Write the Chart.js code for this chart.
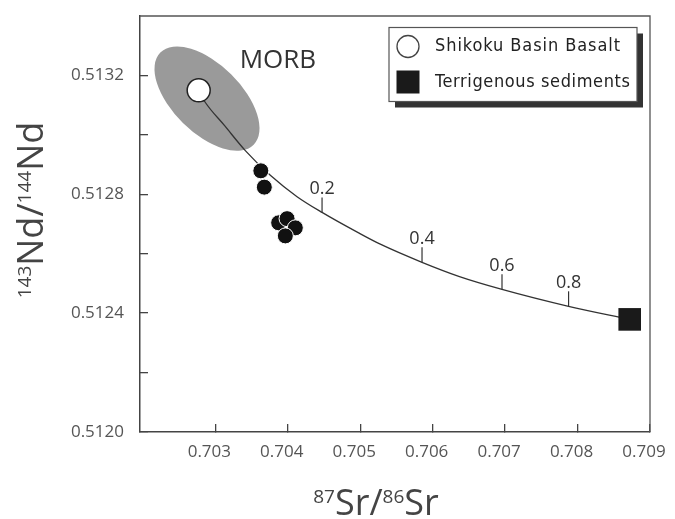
<!DOCTYPE html>
<html>
<head>
<meta charset="utf-8">
<script src="https://cdn.jsdelivr.net/npm/chart.js@4"></script>
<style>
    html, body { margin: 0; padding: 0; background: #fff; }
    #chart { display: block; }
</style>
</head>
<body>
<canvas id="chart" width="675" height="519"></canvas>
<script>
"use strict";

// values (87Sr/86Sr on x, 143Nd/144Nd on y)
const basaltX = [0.70277];
const basaltY = [0.51315];
const sedimentX = [0.70872];
const sedimentY = [0.512379];
const sampleX = [0.703628, 0.703676, 0.703874, 0.703990, 0.704104, 0.703966];
const sampleY = [0.512879, 0.512824, 0.512704, 0.512718, 0.512687, 0.512660];

// mixing curve basalt -> sediment
const mixCurveX = [0.702770, 0.702848, 0.703131, 0.703414, 0.703759, 0.704128, 0.704473,
    0.704978, 0.705277, 0.705853, 0.706370, 0.706957, 0.707876, 0.708720];
const mixCurveY = [0.513149, 0.513114, 0.513030, 0.512947, 0.512864, 0.512792, 0.512739,
    0.512670, 0.512632, 0.512571, 0.512523, 0.512480, 0.512423, 0.512379];
const mixFractions = ['0.2', '0.4', '0.6', '0.8'];
const mixX = [0.704473, 0.705853, 0.706957, 0.707876];
const mixY = [0.512739, 0.512571, 0.512480, 0.512423];

// MORB field: centre, end of long axis, end of short axis
const morbX = [0.702885, 0.703529, 0.703222];
const morbY = [0.513122, 0.512967, 0.513203];
const morbLabel = ['MORB'];
const morbLabelX = [0.703863];
const morbLabelY = [0.513249];

const xTicks = [0.703, 0.704, 0.705, 0.706, 0.707, 0.708, 0.709];
const yTicks = [0.5120, 0.5122, 0.5124, 0.5126, 0.5128, 0.5130, 0.5132];
const yTickLabels = ['0.5120', '', '0.5124', '', '0.5128', '', '0.5132'];
const legendLabels = ['Shikoku Basin Basalt', 'Terrigenous sediments'];

const FONT = '"Open Sans", "DejaVu Sans", sans-serif';
const toPoints = (xs, ys) => xs.map((x, i) => ({ x: x, y: ys[i] }));
const noPadding = () => ({ left: 0, top: 0, right: 0, bottom: 0 });

const morbField = {
    id: 'morbField',
    beforeDatasetsDraw(chart) {
        const { ctx, scales: { x, y } } = chart;
        const cx = x.getPixelForValue(morbX[0]);
        const cy = y.getPixelForValue(morbY[0]);
        const ax = x.getPixelForValue(morbX[1]) - cx;
        const ay = y.getPixelForValue(morbY[1]) - cy;
        const bx = x.getPixelForValue(morbX[2]) - cx;
        const by = y.getPixelForValue(morbY[2]) - cy;
        ctx.save();
        ctx.beginPath();
        ctx.ellipse(cx, cy, Math.hypot(ax, ay), Math.hypot(bx, by), Math.atan2(ay, ax), 0, Math.PI * 2);
        ctx.fillStyle = '#9a9a9a';
        ctx.fill();
        ctx.restore();
    }
};

function drawSupText(ctx, parts, x, y, align) {
    // parts: [[text, isSup], ...] ; big 36px, sup 19px
    const big = '36px ' + FONT;
    const small = '19px ' + FONT;
    let total = 0;
    parts.forEach(p => {
        ctx.font = p[1] ? small : big;
        total += ctx.measureText(p[0]).width;
    });
    let cur = align === 'center' ? x - total / 2 : x;
    ctx.textAlign = 'left';
    ctx.textBaseline = 'alphabetic';
    parts.forEach(p => {
        ctx.font = p[1] ? small : big;
        ctx.fillText(p[0], cur, p[1] ? y - 12 : y);
        cur += ctx.measureText(p[0]).width;
    });
}

const extras = {
    id: 'extras',
    afterDatasetsDraw(chart) {
        const { ctx, chartArea: area, scales: { x, y } } = chart;
        ctx.save();

        // top and right frame
        ctx.strokeStyle = '#555';
        ctx.lineWidth = 1.3;
        ctx.beginPath();
        ctx.moveTo(area.left, area.top);
        ctx.lineTo(area.right, area.top);
        ctx.lineTo(area.right, area.bottom);
        ctx.stroke();

        // mixing proportion ticks
        ctx.strokeStyle = '#333';
        ctx.lineWidth = 1.2;
        ctx.fillStyle = '#333';
        ctx.font = '18px ' + FONT;
        ctx.textAlign = 'center';
        ctx.textBaseline = 'alphabetic';
        mixFractions.forEach((label, i) => {
            const px = x.getPixelForValue(mixX[i]);
            const py = y.getPixelForValue(mixY[i]);
            ctx.beginPath();
            ctx.moveTo(px, py);
            ctx.lineTo(px, py - 15);
            ctx.stroke();
            ctx.fillText(label, px, py - 18);
        });

        // MORB label
        ctx.font = '26px ' + FONT;
        ctx.textBaseline = 'middle';
        ctx.fillText(morbLabel[0], x.getPixelForValue(morbLabelX[0]), y.getPixelForValue(morbLabelY[0]));

        // legend box with drop shadow
        const bw = 248, bh = 74;
        const bx = area.right - 261, by = area.top + 11.5;
        ctx.fillStyle = '#333';
        ctx.fillRect(bx + 6, by + 6, bw, bh);
        ctx.fillStyle = '#fff';
        ctx.fillRect(bx, by, bw, bh);
        ctx.strokeStyle = '#555';
        ctx.lineWidth = 1.2;
        ctx.strokeRect(bx, by, bw, bh);

        ctx.beginPath();
        ctx.arc(bx + 19, by + 19, 11, 0, Math.PI * 2);
        ctx.fillStyle = '#fff';
        ctx.fill();
        ctx.strokeStyle = '#444';
        ctx.lineWidth = 1.3;
        ctx.stroke();
        ctx.fillStyle = '#1a1a1a';
        ctx.fillRect(bx + 7.5, by + 43, 23, 23);

        ctx.fillStyle = '#222';
        ctx.font = 'condensed 18px "DejaVu Sans Condensed", "DejaVu Sans", sans-serif';
        ctx.textAlign = 'left';
        ctx.textBaseline = 'middle';
        legendLabels.forEach((label, i) => {
            // stretch each entry to the width it has in the figure
            const target = i === 0 ? 185 : 195;
            ctx.letterSpacing = '0px';
            const w = ctx.measureText(label).width;
            ctx.letterSpacing = Math.max(0, (target - w) / (label.length - 1)) + 'px';
            ctx.fillText(label, bx + 46, by + (i === 0 ? 19 : 54.5));
        });
        ctx.letterSpacing = '0px';

        // axis titles with superscripts
        ctx.fillStyle = '#444';
        drawSupText(ctx, [['87', true], ['Sr/', false], ['86', true], ['Sr', false]], 376, 515, 'center');
        ctx.translate(43, 210);
        ctx.rotate(-Math.PI / 2);
        drawSupText(ctx, [['143', true], ['Nd/', false], ['144', true], ['Nd', false]], 0, 0, 'center');

        ctx.restore();
    }
};

const ctx = document.querySelector('#chart').getContext('2d');
new Chart(ctx, {
    type: 'scatter',
    data: {
        datasets: [
            {
                label: legendLabels[0],
                data: toPoints(basaltX, basaltY),
                pointStyle: 'circle',
                pointRadius: 11.5,
                backgroundColor: '#fff',
                borderColor: '#222',
                borderWidth: 1.5,
                order: 1
            },
            {
                label: legendLabels[1],
                data: toPoints(sedimentX, sedimentY),
                pointStyle: 'rect',
                pointRadius: 16,
                backgroundColor: '#1a1a1a',
                borderColor: '#1a1a1a',
                borderWidth: 0,
                order: 1
            },
            {
                label: 'Samples',
                data: toPoints(sampleX, sampleY),
                pointStyle: 'circle',
                pointRadius: 8,
                backgroundColor: '#111',
                borderColor: '#fff',
                borderWidth: 1,
                order: 2
            },
            {
                label: 'Mixing curve',
                type: 'line',
                data: toPoints(mixCurveX, mixCurveY),
                showLine: true,
                borderColor: '#333',
                borderWidth: 1.3,
                pointRadius: 0,
                cubicInterpolationMode: 'monotone',
                fill: false,
                order: 3
            }
        ]
    },
    options: {
        responsive: false,
        animation: false,
        devicePixelRatio: 1,
        layout: { padding: { left: 0, top: 11, right: 25, bottom: 0 } },
        plugins: {
            legend: { display: false },
            tooltip: { enabled: false }
        },
        scales: {
            x: {
                type: 'linear',
                min: 0.70196,
                max: 0.709,
                afterFit(scale) {
                    scale.height = 87;
                    scale.paddingLeft = 0;
                    scale.paddingRight = 0;
                    scale.getPadding = noPadding;
                },
                afterBuildTicks(scale) { scale.ticks = xTicks.map(v => ({ value: v })); },
                grid: { drawOnChartArea: false, drawTicks: true, tickLength: -8, color: '#444', lineWidth: 1.3 },
                border: { color: '#444', width: 1.5 },
                ticks: {
                    padding: 18,
                    labelOffset: -6,
                    maxRotation: 0,
                    autoSkip: false,
                    color: '#555',
                    font: { family: FONT, size: 17 },
                    callback: (v) => v.toFixed(3)
                }
            },
            y: {
                type: 'linear',
                min: 0.5120,
                max: 0.5134,
                afterFit(scale) {
                    scale.width = 140;
                    scale.paddingTop = 0;
                    scale.paddingBottom = 0;
                    scale.getPadding = noPadding;
                },
                afterBuildTicks(scale) { scale.ticks = yTicks.map(v => ({ value: v })); },
                grid: { drawOnChartArea: false, drawTicks: true, tickLength: -8, color: '#444', lineWidth: 1.3 },
                border: { color: '#444', width: 1.5 },
                ticks: {
                    padding: 24,
                    autoSkip: false,
                    color: '#555',
                    font: { family: FONT, size: 17 },
                    callback: (v, i) => yTickLabels[i]
                }
            }
        }
    },
    plugins: [morbField, extras]
});
</script>
</body>
</html>
